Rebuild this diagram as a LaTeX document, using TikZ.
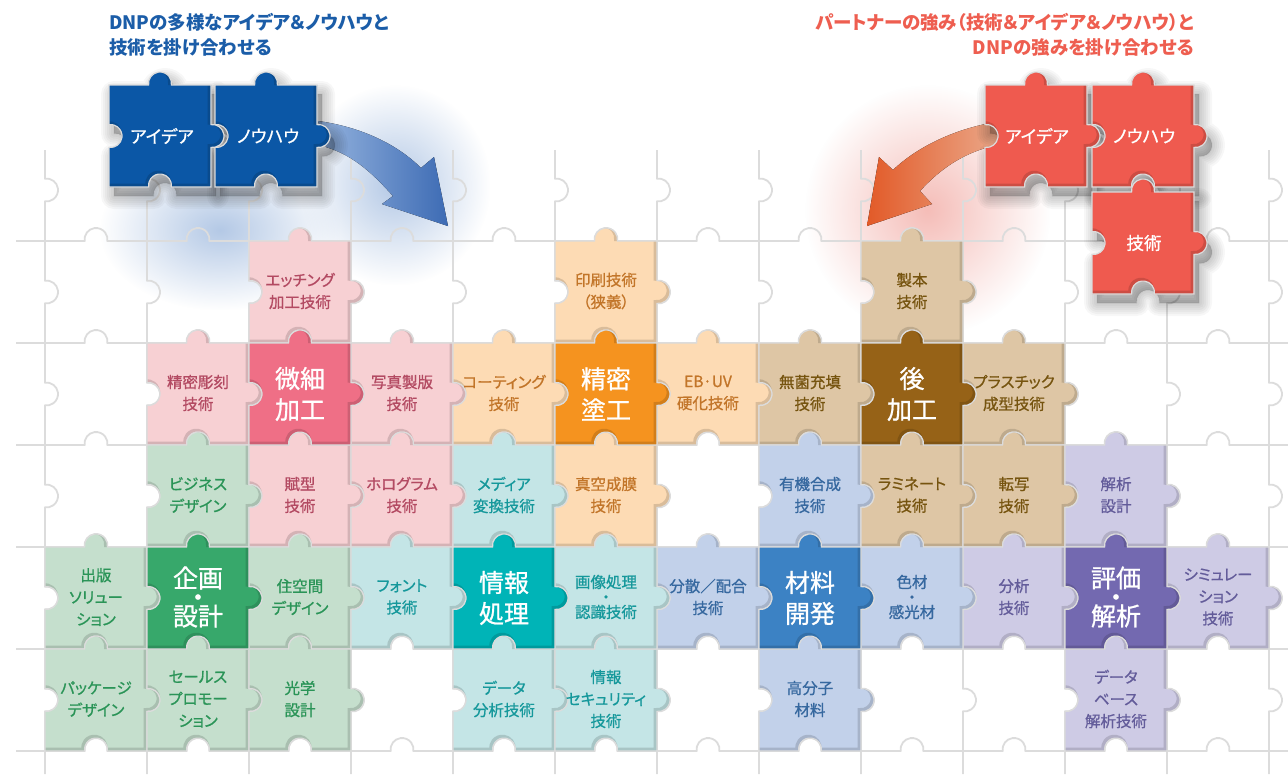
\documentclass[tikz,border=0pt]{standalone}
\usepackage{fontspec}
\setmainfont{Noto Sans CJK JP}[RawFeature={+palt}]
\newfontfamily\jpm{Noto Sans CJK JP}[RawFeature={+palt},FakeBold=0.9]
\usetikzlibrary{fadings}
\tikzfading[name=softglow, inner color=transparent!0, outer color=transparent!100]
\definecolor{gridc}{HTML}{DCDCDC}
\definecolor{pinkL}{HTML}{F7D0D3}\definecolor{pinkT}{HTML}{B34A62}\definecolor{pinkD}{HTML}{EF6F86}
\definecolor{orgL}{HTML}{FDDBB4}\definecolor{orgT}{HTML}{C27529}\definecolor{orgD}{HTML}{F5931F}
\definecolor{tanL}{HTML}{DEC6A5}\definecolor{tanT}{HTML}{76540F}\definecolor{tanD}{HTML}{966217}
\definecolor{grnL}{HTML}{C5DFCD}\definecolor{grnT}{HTML}{2A9457}\definecolor{grnD}{HTML}{37A86B}
\definecolor{tealL}{HTML}{C4E5E6}\definecolor{tealT}{HTML}{15989B}\definecolor{tealD}{HTML}{00B4B7}
\definecolor{bluL}{HTML}{C2D1EA}\definecolor{bluT}{HTML}{36689F}\definecolor{bluD}{HTML}{3C82C4}
\definecolor{lavL}{HTML}{CECBE5}\definecolor{lavT}{HTML}{635C9A}\definecolor{lavD}{HTML}{7369B0}
\definecolor{dnpB}{HTML}{0B57A6}\definecolor{dnpT}{HTML}{1B5DA8}
\definecolor{ptR}{HTML}{EF5A4F}\definecolor{ptT}{HTML}{EE5E50}
\definecolor{arrB1}{HTML}{94B3DE}\definecolor{arrB2}{HTML}{3D6BB4}
\definecolor{arrR1}{HTML}{E25A28}\definecolor{arrR2}{HTML}{EBAA8C}
\definecolor{hazeB}{HTML}{B4C9E6}\definecolor{hazeR}{HTML}{F5BDB8}
\newcommand{\pzp}[2]{(#1,#2) -- (#1+39.6,#2) arc[start angle=172.5,end angle=367.5,radius=11.5] -- (#1+102,#2) -- (#1+102,#2+39.6) arc[start angle=262.5,end angle=457.5,radius=11.5] -- (#1+102,#2+102) -- (#1+62.4,#2+102) arc[start angle=7.5,end angle=-187.5,radius=11.5] -- (#1,#2+102) -- (#1,#2+62.4) arc[start angle=97.5,end angle=-97.5,radius=11.5] -- cycle}
\newcommand{\piece}[3]{%
  \begin{scope}
    \fill[fill=#3] \pzp{#1}{#2};
    \clip \pzp{#1}{#2};
    \draw[draw=#3!65!black, opacity=.4, line width=3.5] \pzp{#1-1.6}{#2-1.6};
  \end{scope}
  \draw[gridc, line width=1.2] \pzp{#1}{#2};}
\newcommand{\softshadow}[2]{%
  \foreach \w in {26,22,18,14,10,6,2}{\filldraw[black, opacity=0.03, line width=\w, line join=round] \pzp{#1+5}{#2+9};}}
\tikzset{
  lbl/.style={font=\jpm\fontsize{15.5}{22}\selectfont, align=center, inner sep=0pt},
  biglbl/.style={font=\jpm\fontsize{25}{31}\selectfont, align=center, inner sep=0pt, text=white},
  pzlbl/.style={font=\jpm\fontsize{17.5}{22}\selectfont, inner sep=0pt, text=white},
  head/.style={font=\bfseries\fontsize{18.5}{25}\selectfont, inner sep=0pt}
}
\begin{document}
\begin{tikzpicture}[x=1pt,y=1pt,yscale=-1]
\useasboundingbox (0,0) rectangle (1288,774);
\fill[white] (0,0) rectangle (1288,774);
% hazes
\fill[hazeB, path fading=softglow] (300,85) rectangle (490,285);
\fill[hazeB, path fading=softglow] (100,150) rectangle (340,310);
\fill[hazeR, path fading=softglow] (805,85) rectangle (1050,335);
% background grid
\foreach \y in {241,343,445,547,649,751}{
  \draw[gridc, line width=1.8] (16,\y) \foreach \c in {0,...,11}{ -- (\c*102+84.6,\y) arc[start angle=172.5,end angle=367.5,radius=11.5]} -- (1288,\y);
}
\foreach \x in {45,147,...,1269}{
  \draw[gridc, line width=1.8] (\x,150) \foreach \r in {0,...,5}{ -- (\x,\r*102+178.6) arc[start angle=262.5,end angle=457.5,radius=11.5]} -- (\x,774);
}
% light pieces
\foreach \c/\r/\fc/\tc/\txt in {
2/1/pinkL/pinkT/{エッチング\\加工技術},
5/1/orgL/orgT/{印刷技術\\（狭義）},
8/1/tanL/tanT/{製本\\技術},
1/2/pinkL/pinkT/{精密彫刻\\技術},
3/2/pinkL/pinkT/{写真製版\\技術},
4/2/orgL/orgT/{コーティング\\技術},
6/2/orgL/orgT/{EB·UV\\硬化技術},
7/2/tanL/tanT/{無菌充填\\技術},
9/2/tanL/tanT/{プラスチック\\成型技術},
1/3/grnL/grnT/{ビジネス\\デザイン},
2/3/pinkL/pinkT/{賦型\\技術},
3/3/pinkL/pinkT/{ホログラム\\技術},
4/3/tealL/tealT/{メディア\\変換技術},
5/3/orgL/orgT/{真空成膜\\技術},
7/3/bluL/bluT/{有機合成\\技術},
8/3/tanL/tanT/{ラミネート\\技術},
9/3/tanL/tanT/{転写\\技術},
10/3/lavL/lavT/{解析\\設計},
0/4/grnL/grnT/{出版\\ソリュー\\ション},
2/4/grnL/grnT/{住空間\\デザイン},
3/4/tealL/tealT/{フォント\\技術},
6/4/bluL/bluT/{分散／配合\\技術},
9/4/lavL/lavT/{分析\\技術},
11/4/lavL/lavT/{シミュレー\\ション\\技術},
0/5/grnL/grnT/{パッケージ\\デザイン},
1/5/grnL/grnT/{セールス\\プロモー\\ション},
2/5/grnL/grnT/{光学\\設計},
4/5/tealL/tealT/{データ\\分析技術},
5/5/tealL/tealT/{情報\\セキュリティ\\技術},
7/5/bluL/bluT/{高分子\\材料},
10/5/lavL/lavT/{データ\\ベース\\解析技術}}{
  \piece{\c*102+45}{\r*102+139}{\fc}
  \node[lbl, text=\tc] (p\c-\r) at (\c*102+96, \r*102+189) {\txt};
}
% light pieces with dotted labels
\piece{555}{547}{tealL}
\node[lbl, text=tealT] (p5-4) at (606,597) {画像処理\\[-7pt]・\\[-7pt]認識技術};
\piece{861}{547}{bluL}
\node[lbl, text=bluT] (p8-4) at (912,597) {色材\\[-7pt]・\\[-7pt]感光材};
% core pieces
\foreach \c/\r/\fc/\txt in {2/2/pinkD/{微細\\加工}, 5/2/orgD/{精密\\塗工}, 8/2/tanD/{後\\加工}, 4/4/tealD/{情報\\処理}, 7/4/bluD/{材料\\開発}}{
  \piece{\c*102+45}{\r*102+139}{\fc}
  \node[biglbl] (q\c-\r) at (\c*102+96, \r*102+190) {\txt};
}
\piece{147}{547}{grnD}
\node[biglbl] (q1-4) at (198,597) {企画\\[-12pt]・\\[-12pt]設計};
\piece{1065}{547}{lavD}
\node[biglbl] (q10-4) at (1116,597) {評価\\[-12pt]・\\[-12pt]解析};
% arrows
\fill[left color=arrB1, right color=arrB2] (318,121) .. controls (362,127) and (398,145) .. (421,168) -- (434,157) -- (448,226) -- (382,204) -- (393,196) .. controls (374,175) and (355,156) .. (326,147) -- cycle;
\fill[left color=arrR1, right color=arrR2] (1003,121) .. controls (957,127) and (917,147) .. (893,170) -- (879,157) -- (867,226) -- (932,204) -- (920,191) .. controls (940,169) and (966,150) .. (1003,144) -- cycle;
% DNP pieces
\softshadow{109}{85}\softshadow{215}{85}
\piece{109}{85}{dnpB}
\piece{215}{85}{dnpB}
\node[pzlbl] (d1) at (162,136) {アイデア};
\node[pzlbl] (d2) at (268,136) {ノウハウ};
% partner pieces
\softshadow{985}{85}\softshadow{1092}{85}\softshadow{1092}{192}
\piece{985}{85}{ptR}
\piece{1092}{85}{ptR}
\piece{1092}{192}{ptR}
\node[pzlbl] (r1) at (1037,136) {アイデア};
\node[pzlbl] (r2) at (1144,136) {ノウハウ};
\node[pzlbl] (r3) at (1144,243) {技術};
% headings
\node[head, text=dnpT, anchor=base west] (h1) at (109,29) {DNPの多様なアイデア＆ノウハウと};
\node[head, text=dnpT, anchor=base west] (h2) at (109,54) {技術を掛け合わせる};
\node[head, text=ptT, anchor=base east] (h3) at (1194,29) {パートナーの強み（技術＆アイデア＆ノウハウ）と};
\node[head, text=ptT, anchor=base east] (h4) at (1194,54) {DNPの強みを掛け合わせる};
\end{tikzpicture}
\end{document}
